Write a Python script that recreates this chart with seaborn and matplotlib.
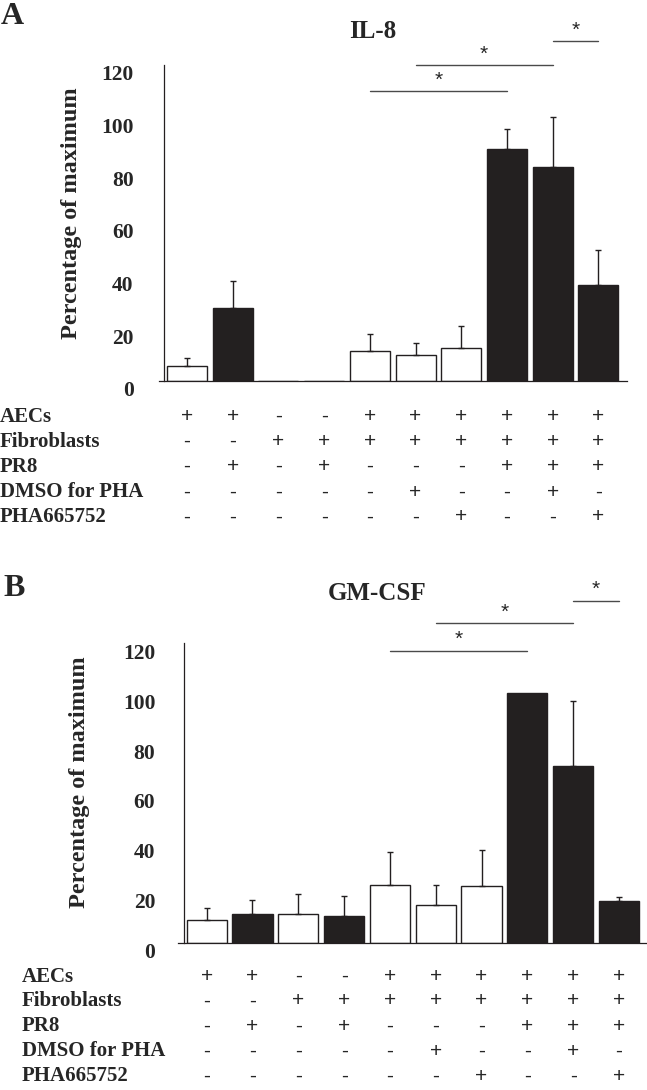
import matplotlib
matplotlib.use("Agg")
import matplotlib.pyplot as plt
import matplotlib.transforms as mtransforms
import seaborn as sns
import pandas as pd

# values (percentage of maximum)
conditions = ["c1", "c2", "c3", "c4", "c5", "c6", "c7", "c8", "c9", "c10"]
fill = ["open", "filled", "open", "filled", "open", "open", "open", "filled", "filled", "filled"]

il8_mean = [5.7, 27.6, 0, 0, 11.3, 10.0, 12.6, 88.2, 81.3, 36.3]
il8_upper = [8.8, 38.1, 0, 0, 17.7, 14.5, 20.7, 95.8, 100.1, 49.6]
gmcsf_mean = [9.0, 11.5, 11.5, 10.8, 23.3, 15.1, 22.6, 100.0, 70.8, 16.6]
gmcsf_upper = [13.9, 17.0, 19.5, 18.9, 36.4, 23.3, 37.1, 100.0, 96.9, 18.3]

comparisons = [(4, 7), (5, 8), (8, 9)]
il8_sig_y = [110, 120, 129]
gmcsf_sig_y = [117, 128, 137]

row_names = ["AECs", "Fibroblasts", "PR8", "DMSO for PHA", "PHA665752"]
aecs = ["+", "+", "-", "-", "+", "+", "+", "+", "+", "+"]
fibroblasts = ["-", "-", "+", "+", "+", "+", "+", "+", "+", "+"]
pr8 = ["-", "+", "-", "+", "-", "-", "-", "+", "+", "+"]
dmso = ["-", "-", "-", "-", "-", "+", "-", "-", "+", "-"]
pha = ["-", "-", "-", "-", "-", "-", "+", "-", "-", "+"]
table_rows = [aecs, fibroblasts, pr8, dmso, pha]

yticks = [0, 20, 40, 60, 80, 100, 120]

ink = "#231f20"
W, H = 647, 1090

sns.set_style("white")
plt.rcParams["font.family"] = ["Liberation Serif", "DejaVu Serif"]
plt.rcParams["font.weight"] = "bold"

fig = plt.figure(figsize=(W / 100, H / 100), dpi=100)
fig.patch.set_facecolor("white")


def fy(px):
    return 1 - px / H


def draw_panel(ax, means, uppers, sig_y, letter, letter_xy, title, title_xy,
               ylabel_x, ylabel_y, label_x, row_y, pad):
    df = pd.DataFrame({"condition": conditions, "mean": means, "fill": fill})
    sns.barplot(data=df, x="condition", y="mean", hue="fill", order=conditions,
                palette={"open": "white", "filled": ink}, dodge=False, width=0.875,
                edgecolor=ink, linewidth=1.0, errorbar=None, legend=False, ax=ax)

    xs = [i for i in range(len(means)) if uppers[i] > means[i]]
    ax.errorbar(xs, [means[i] for i in xs],
                yerr=[[0] * len(xs), [uppers[i] - means[i] for i in xs]],
                fmt="none", ecolor=ink, elinewidth=1.0, capsize=2.2, capthick=1.0, zorder=5)

    ax.set_xlim(-0.62, 9.62)
    ax.set_ylim(0, 120)
    for s in ["top", "right"]:
        ax.spines[s].set_visible(False)
    for s in ["left", "bottom"]:
        ax.spines[s].set_color(ink)
        ax.spines[s].set_linewidth(0.9)
    ax.spines["left"].set_position(("data", -0.5))

    ax.set_xticks(range(len(conditions)))
    ax.set_xticklabels([])
    ax.set_xlabel("")
    ax.set_ylabel("")
    ax.set_yticks(yticks)
    ax.set_yticks([10, 30, 50, 70, 90, 110], minor=True)
    ax.tick_params(axis="x", direction="out", length=2.6, width=0.8, color=ink)
    ax.tick_params(axis="y", which="major", direction="out", length=4, width=0.8,
                   color=ink, labelsize=15.5, pad=pad)
    ax.tick_params(axis="y", which="minor", direction="out", length=2.2, width=0.8, color=ink)
    shift = mtransforms.ScaledTranslation(0, -8 / 100, fig.dpi_scale_trans)
    for lab in ax.get_yticklabels():
        lab.set_transform(lab.get_transform() + shift)
        lab.set_fontweight("bold")

    # significance brackets
    for (i, j), y in zip(comparisons, sig_y):
        ax.plot([i, j], [y, y], color="#4a4a4a", lw=1.0, clip_on=False)
        ax.annotate("*", xy=((i + j) / 2, y), xytext=(0, 8), textcoords="offset points",
                    ha="center", va="center", fontsize=15, fontweight="normal",
                    family=["Liberation Sans"], annotation_clip=False)

    fig.text(letter_xy[0] / W, fy(letter_xy[1]), letter, fontsize=23, fontweight="bold",
             ha="left", va="center")
    fig.text(title_xy[0] / W, fy(title_xy[1]), title, fontsize=18, fontweight="bold",
             ha="center", va="center")
    fig.text(ylabel_x / W, fy(ylabel_y), "Percentage of maximum", fontsize=17.5,
             fontweight="bold", rotation=90, ha="center", va="center")

    trans = mtransforms.blended_transform_factory(ax.transData, fig.transFigure)
    for name, signs, y in zip(row_names, table_rows, row_y):
        fig.text(label_x / W, fy(y), name, fontsize=15, fontweight="bold",
                 ha="left", va="center")
        for k, s in enumerate(signs):
            ax.text(k, fy(y), s, transform=trans, ha="center", va="center",
                    fontsize=15, fontweight="normal", family=["Liberation Sans"],
                    clip_on=False)


ax_a = fig.add_axes([158.7 / W, fy(381), 468 / W, 316 / H])
draw_panel(ax_a, il8_mean, il8_upper, il8_sig_y, "A", (1, 16), "IL-8", (373, 32),
           71, 213, 0, [416.7, 441.7, 466.5, 492, 517], pad=18)

ax_b = fig.add_axes([178.3 / W, fy(942.7), 469 / W, 299.4 / H])
draw_panel(ax_b, gmcsf_mean, gmcsf_upper, gmcsf_sig_y, "B", (3, 588), "GM-CSF", (377, 593),
           80, 782, 22, [976.7, 1001, 1026, 1051.5, 1076], pad=16.5)

fig.savefig("out.png", dpi=100, facecolor="white")
